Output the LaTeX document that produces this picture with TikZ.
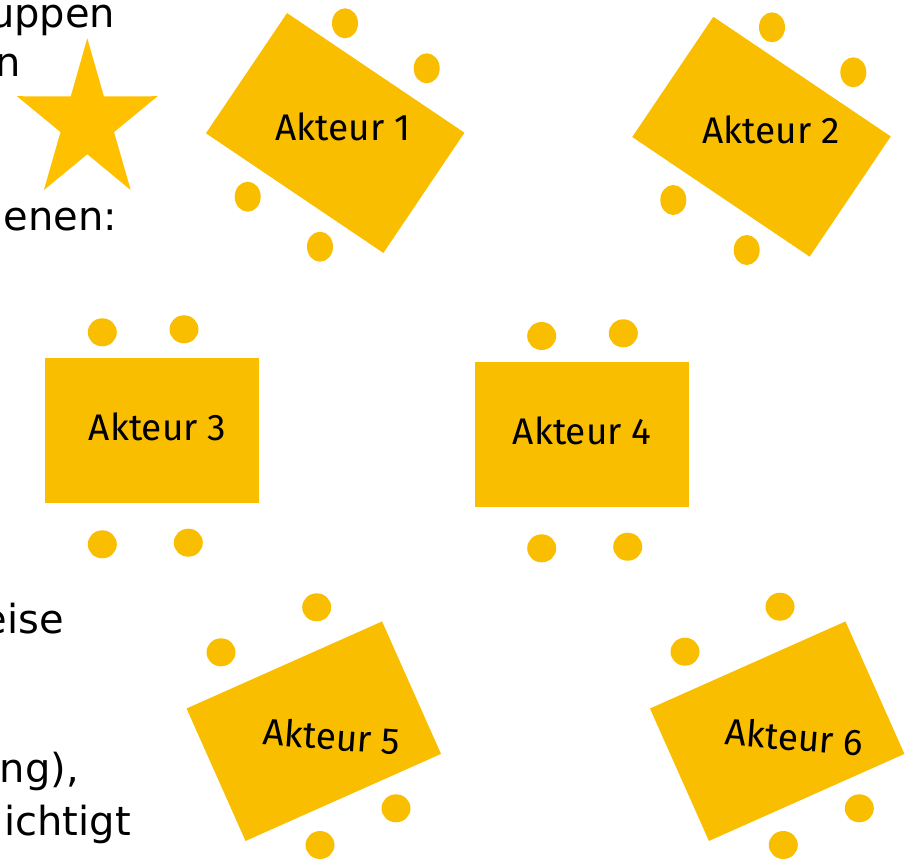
\documentclass[tikz,border=0pt]{standalone}
\usepackage{fontspec}
\setmainfont{DejaVu Sans}
\newfontfamily\tablefont{Fira Sans}
\usetikzlibrary{shapes.geometric}
\definecolor{tablecol}{HTML}{FABE00}
\definecolor{starcol}{HTML}{FFC000}
\tikzset{
  tablebox/.style={fill=tablecol, draw=none, minimum width=214pt, minimum height=145pt, inner sep=0pt},
  chair/.style={ellipse, fill=tablecol, draw=none, inner sep=0pt, minimum width=28pt, minimum height=28pt},
  tlabel/.style={font=\tablefont\fontsize{37}{40}\selectfont, text=black, inner sep=0pt, anchor=base},
  lefttext/.style={font=\fontsize{40}{48}\selectfont, text=black, inner sep=0pt, anchor=base east}
}
\begin{document}
\begin{tikzpicture}[x=1pt,y=-1pt]
\useasboundingbox (0,0) rectangle (905,859);
% left texts (cut off at the left edge)
\node[lefttext] (l1) at (115.5,28) {uppen};
\node[lefttext] (l2) at (21.4,77) {n};
\node[lefttext] (l3) at (117.5,230) {enen:};
\node[lefttext] (l4) at (64,633) {eise};
\node[lefttext] (l5) at (79,782) {ng),};
\node[lefttext] (l6) at (131,835) {ichtigt};
% star
\fill[starcol] (87.3,38.3)
  \foreach \k in {1,...,9} {
    \ifodd\k
      -- ({87.3+0.88*32*cos(90+36*\k)},{122.2-32*sin(90+36*\k)})
    \else
      -- ({87.3+0.88*84*cos(90+36*\k)},{122.2-84*sin(90+36*\k)})
    \fi
  } -- cycle;
% table 1
\node[tablebox, rotate=-34] (t1) at (335.2,133) {};
\node[tlabel] (a1) at (343,140) {Akteur 1};
\node[chair, minimum width=26pt, minimum height=30pt] (c11) at (345,23.3) {};
\node[chair, minimum width=26pt, minimum height=30pt] (c12) at (426.7,68.3) {};
\node[chair, minimum width=26pt, minimum height=30pt] (c13) at (247.7,196.7) {};
\node[chair, minimum width=26pt, minimum height=30pt] (c14) at (320,246.7) {};
% table 2
\node[tablebox, rotate=-34] (t2) at (761.5,136.7) {};
\node[tlabel] (a2) at (771,143.3) {Akteur 2};
\node[chair, minimum width=26pt, minimum height=30pt] (c21) at (772,27.3) {};
\node[chair, minimum width=26pt, minimum height=30pt] (c22) at (853.3,72.3) {};
\node[chair, minimum width=26pt, minimum height=30pt] (c23) at (673.3,200) {};
\node[chair, minimum width=26pt, minimum height=30pt] (c24) at (746.7,250) {};
% table 3
\node[tablebox] (t3) at (151.7,430) {};
\node[tlabel] (a3) at (157.5,440) {Akteur 3};
\node[chair, minimum width=29pt] (c31) at (102.3,332.3) {};
\node[chair, minimum width=29pt] (c32) at (184,329.3) {};
\node[chair, minimum width=29pt] (c33) at (102.3,544.3) {};
\node[chair, minimum width=29pt] (c34) at (188.3,542.7) {};
% table 4
\node[tablebox] (t4) at (582,434.2) {};
\node[tlabel] (a4) at (582.2,444.3) {Akteur 4};
\node[chair, minimum width=29pt] (c41) at (541.7,336) {};
\node[chair, minimum width=29pt] (c42) at (623.3,333.3) {};
\node[chair, minimum width=29pt] (c43) at (541.7,548.3) {};
\node[chair, minimum width=29pt] (c44) at (627.7,546.7) {};
% table 5
\node[tablebox, rotate=24] (t5) at (313.8,731.2) {};
\node[tlabel, rotate=-4.2] (a5) at (330.8,750) {Akteur 5};
\node[chair, minimum width=29pt] (c51) at (316.7,607.3) {};
\node[chair, minimum width=29pt] (c52) at (221,652.3) {};
\node[chair, minimum width=29pt] (c53) at (396,808.3) {};
\node[chair, minimum width=29pt] (c54) at (320,845) {};
% table 6
\node[tablebox, rotate=24] (t6) at (777.2,731.2) {};
\node[tlabel, rotate=-4.5] (a6) at (793.3,750.3) {Akteur 6};
\node[chair, minimum width=29pt] (c61) at (780,606.7) {};
\node[chair, minimum width=29pt] (c62) at (685,651.7) {};
\node[chair, minimum width=29pt] (c63) at (859.3,808.3) {};
\node[chair, minimum width=29pt] (c64) at (783.3,845) {};
\end{tikzpicture}
\end{document}
